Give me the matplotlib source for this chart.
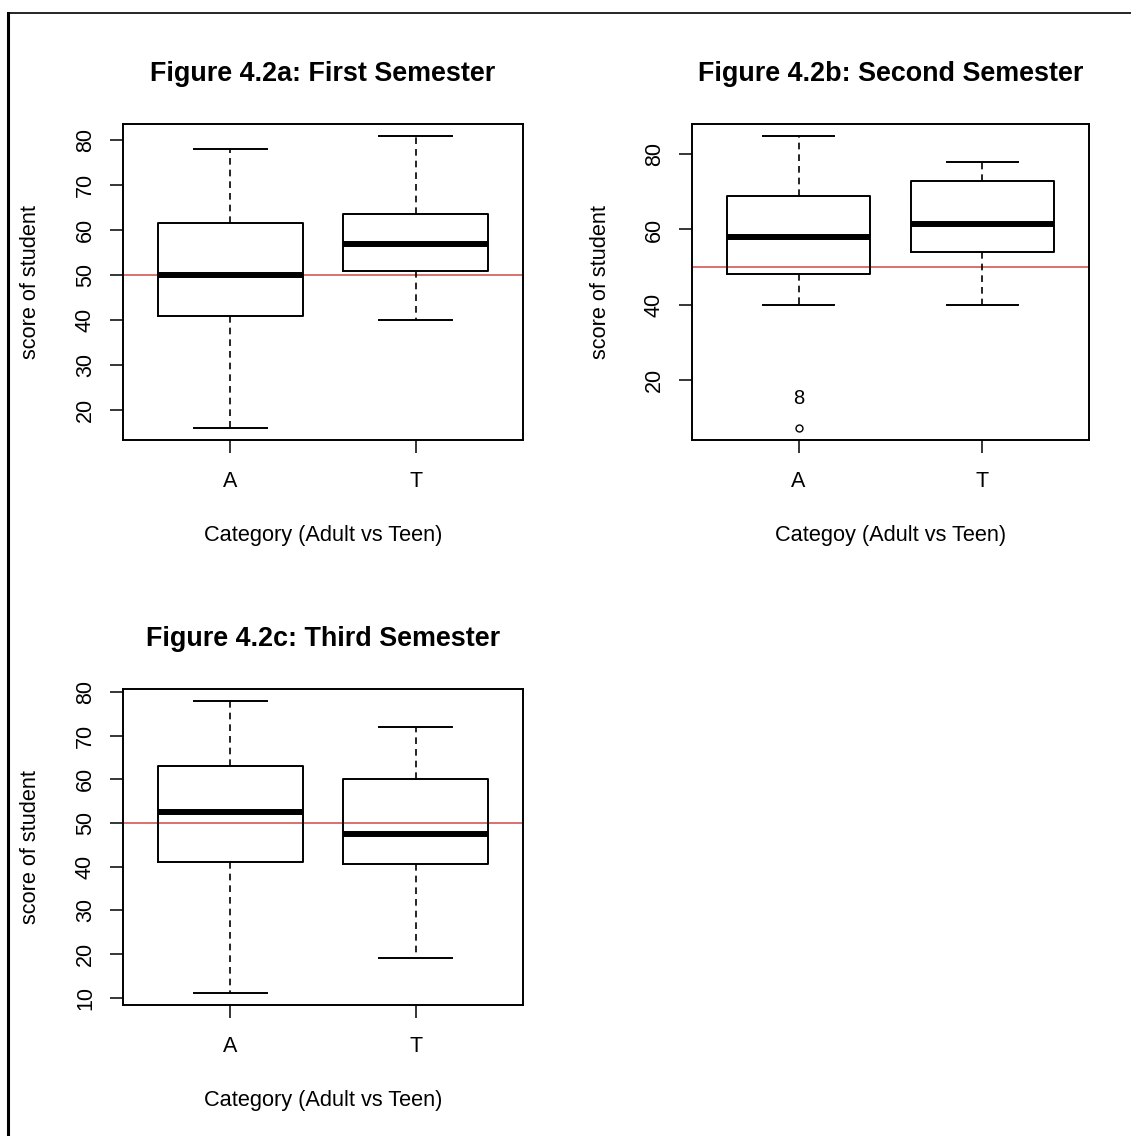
import matplotlib
matplotlib.use("Agg")
import matplotlib.pyplot as plt
from matplotlib.lines import Line2D

plt.rcParams['font.family'] = ['Liberation Sans', 'DejaVu Sans']

# box statistics: A = Adult, T = Teen
groups = ['A', 'T']

# Figure 4.2a
sem1_low = [16, 40]
sem1_q1 = [41, 51]
sem1_med = [50, 57]
sem1_q3 = [61.5, 63.5]
sem1_high = [78, 81]
sem1_out = [[], []]

# Figure 4.2b
sem2_low = [40, 40]
sem2_q1 = [48, 54]
sem2_med = [58, 61.5]
sem2_q3 = [69, 73]
sem2_high = [85, 78]
sem2_out = [[7], []]
sem2_out_labels = [['8'], []]

# Figure 4.2c
sem3_low = [11, 19]
sem3_q1 = [41, 40.5]
sem3_med = [52.5, 47.5]
sem3_q3 = [63, 60]
sem3_high = [78, 72]
sem3_out = [[], []]

pass_mark = 50

panels = [
  dict(title='Figure 4.2a: First Semester', xlabel='Category (Adult vs Teen)',
       low=sem1_low, q1=sem1_q1, med=sem1_med, q3=sem1_q3, high=sem1_high,
       out=sem1_out, labels=[[], []], yticks=[20, 30, 40, 50, 60, 70, 80],
       rect=[123, 124, 523, 440]),
  dict(title='Figure 4.2b: Second Semester', xlabel='Categoy (Adult vs Teen)',
       low=sem2_low, q1=sem2_q1, med=sem2_med, q3=sem2_q3, high=sem2_high,
       out=sem2_out, labels=sem2_out_labels, yticks=[20, 40, 60, 80],
       rect=[692, 124, 1089, 440]),
  dict(title='Figure 4.2c: Third Semester', xlabel='Category (Adult vs Teen)',
       low=sem3_low, q1=sem3_q1, med=sem3_med, q3=sem3_q3, high=sem3_high,
       out=sem3_out, labels=[[], []], yticks=[10, 20, 30, 40, 50, 60, 70, 80],
       rect=[123, 689, 523, 1005]),
]

W, H = 1131, 1136
fig = plt.figure(figsize=(W / 100, H / 100), dpi=100)

# outer frame (left and top edges are visible)
fig.add_artist(Line2D([8 / W, 8 / W], [0, 1 - 12.5 / H], color='black', lw=2.2))
fig.add_artist(Line2D([8 / W, 1], [1 - 12.5 / H, 1 - 12.5 / H], color='black', lw=1.2))

for p in panels:
  x0, y0, x1, y1 = p['rect']
  ax = fig.add_axes([x0 / W, 1 - y1 / H, (x1 - x0) / W, (y1 - y0) / H])

  stats = []
  for i in range(len(groups)):
    stats.append(dict(med=p['med'][i], q1=p['q1'][i], q3=p['q3'][i],
                      whislo=p['low'][i], whishi=p['high'][i],
                      fliers=p['out'][i], label=groups[i]))

  ax.bxp(stats, positions=[1, 2], widths=0.78, showcaps=True,
         boxprops=dict(color='black', linewidth=1.4),
         medianprops=dict(color='black', linewidth=4.3, solid_capstyle='butt'),
         whiskerprops=dict(color='black', linewidth=1.2, linestyle=(0, (4, 3))),
         capprops=dict(color='black', linewidth=1.4),
         flierprops=dict(marker='o', markersize=5, markerfacecolor='none',
                         markeredgecolor='black', markeredgewidth=1.0))
  for i, labs in enumerate(p['labels']):
    for v, lab in zip(p['out'][i], labs):
      ax.text(i + 1, v + 8, lab, ha='center', va='center', fontsize=14.5)

  # R-style 4% padding of the data range
  lo = min(min(p['low']), min([min(o) for o in p['out'] if o] or [999]))
  hi = max(p['high'])
  pad = (hi - lo) * 0.04
  ax.set_ylim(lo - pad, hi + pad)
  ax.set_xlim(0.42, 2.58)

  ax.axhline(pass_mark, color='#d04a48', lw=1.1, zorder=1)

  ax.set_yticks(p['yticks'])
  ax.set_yticklabels([str(t) for t in p['yticks']], rotation=90, va='center')
  ax.set_xticks([1, 2])
  ax.set_xticklabels(groups)
  ax.tick_params(axis='both', direction='out', length=9.5, width=1.1,
                 labelsize=15.5)
  ax.tick_params(axis='y', pad=10)
  ax.tick_params(axis='x', pad=12.5)
  for s in ax.spines.values():
    s.set_linewidth(1.4)

  ax.set_title(p['title'], fontsize=19.4, fontweight='bold', pad=31)
  ax.set_ylabel('score of student', fontsize=15.7)
  ax.yaxis.set_label_coords(-0.204, 0.5)
  ax.set_xlabel(p['xlabel'], fontsize=15.7)
  ax.xaxis.set_label_coords(0.5, -0.268)

fig.savefig('out.png', dpi=100)
